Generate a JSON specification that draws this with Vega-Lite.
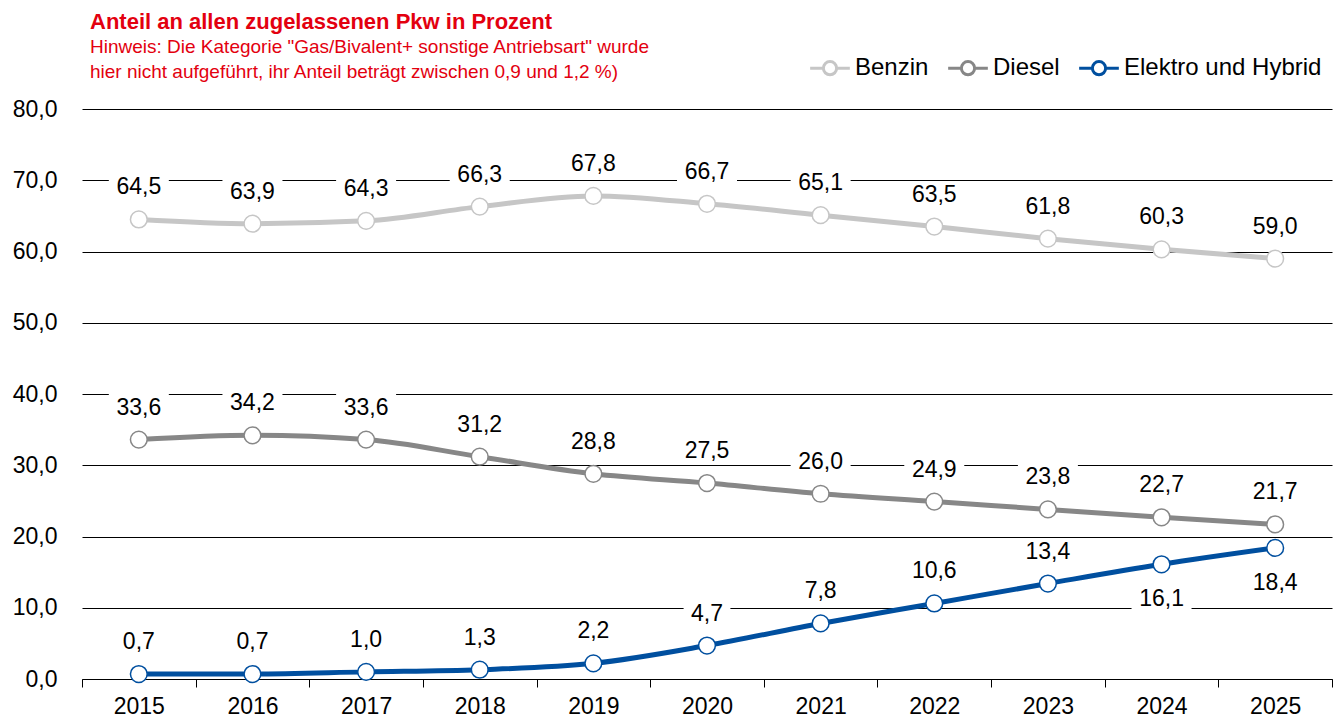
{
  "$schema": "https://vega.github.io/schema/vega-lite/v6.json",
  "autosize": "none",
  "width": 1250,
  "height": 570,
  "padding": {"left": 82, "top": 109, "right": 10, "bottom": 43},
  "background": "white",
  "title": {
    "text": "Anteil an allen zugelassenen Pkw in Prozent",
    "subtitle": ["Hinweis: Die Kategorie \"Gas/Bivalent+ sonstige Antriebsart\" wurde", "hier nicht aufgeführt, ihr Anteil beträgt zwischen 0,9 und 1,2 %)"],
    "anchor": "start",
    "frame": "group",
    "dx": 8,
    "dy": 44,
    "offset": 14,
    "font": "Liberation Sans",
    "fontSize": 22,
    "fontWeight": "bold",
    "color": "#e3000f",
    "subtitleFont": "Liberation Sans",
    "subtitleFontSize": 19,
    "subtitleColor": "#e3000f",
    "subtitleLineHeight": 25,
    "subtitlePadding": 4
  },
  "config": {
    "font": "Liberation Sans",
    "view": {"stroke": null}
  },
  "data": {
    "values": [
      {"year": "2015", "series": "Benzin", "value": 64.5},
      {"year": "2016", "series": "Benzin", "value": 63.9},
      {"year": "2017", "series": "Benzin", "value": 64.3},
      {"year": "2018", "series": "Benzin", "value": 66.3},
      {"year": "2019", "series": "Benzin", "value": 67.8},
      {"year": "2020", "series": "Benzin", "value": 66.7},
      {"year": "2021", "series": "Benzin", "value": 65.1},
      {"year": "2022", "series": "Benzin", "value": 63.5},
      {"year": "2023", "series": "Benzin", "value": 61.8},
      {"year": "2024", "series": "Benzin", "value": 60.3},
      {"year": "2025", "series": "Benzin", "value": 59.0},
      {"year": "2015", "series": "Diesel", "value": 33.6},
      {"year": "2016", "series": "Diesel", "value": 34.2},
      {"year": "2017", "series": "Diesel", "value": 33.6},
      {"year": "2018", "series": "Diesel", "value": 31.2},
      {"year": "2019", "series": "Diesel", "value": 28.8},
      {"year": "2020", "series": "Diesel", "value": 27.5},
      {"year": "2021", "series": "Diesel", "value": 26.0},
      {"year": "2022", "series": "Diesel", "value": 24.9},
      {"year": "2023", "series": "Diesel", "value": 23.8},
      {"year": "2024", "series": "Diesel", "value": 22.7},
      {"year": "2025", "series": "Diesel", "value": 21.7},
      {"year": "2015", "series": "Elektro und Hybrid", "value": 0.7},
      {"year": "2016", "series": "Elektro und Hybrid", "value": 0.7},
      {"year": "2017", "series": "Elektro und Hybrid", "value": 1.0},
      {"year": "2018", "series": "Elektro und Hybrid", "value": 1.3},
      {"year": "2019", "series": "Elektro und Hybrid", "value": 2.2},
      {"year": "2020", "series": "Elektro und Hybrid", "value": 4.7},
      {"year": "2021", "series": "Elektro und Hybrid", "value": 7.8},
      {"year": "2022", "series": "Elektro und Hybrid", "value": 10.6},
      {"year": "2023", "series": "Elektro und Hybrid", "value": 13.4},
      {"year": "2024", "series": "Elektro und Hybrid", "value": 16.1},
      {"year": "2025", "series": "Elektro und Hybrid", "value": 18.4}
    ]
  },
  "transform": [
    {"calculate": "replace(format(datum.value, '.1f'), '.', ',')", "as": "label"},
    {"calculate": "datum.series === 'Elektro und Hybrid' && (datum.year === '2024' || datum.year === '2025')", "as": "below"}
  ],
  "encoding": {
    "x": {
      "field": "year", "type": "ordinal", "title": null,
      "scale": {"paddingInner": 0, "paddingOuter": 0},
      "axis": {
        "labelAngle": 0, "labelFontSize": 23, "labelColor": "#000", "labelPadding": 8,
        "domainColor": "#000", "domainWidth": 1, "tickColor": "#000", "tickSize": 8, "tickWidth": 1,
        "tickBand": "extent", "grid": false
      }
    },
    "y": {
      "field": "value", "type": "quantitative", "title": null,
      "scale": {"domain": [0, 80], "nice": false},
      "axis": {
        "values": [0, 10, 20, 30, 40, 50, 60, 70, 80],
        "labelExpr": "replace(format(datum.value, '.1f'), '.', ',')",
        "labelFontSize": 23, "labelColor": "#000", "labelPadding": 25,
        "domain": false, "ticks": false,
        "grid": true, "gridColor": "#000", "gridWidth": 1
      }
    }
  },
  "layer": [
    {
      "transform": [{"filter": "!datum.below"}],
      "mark": {"type": "point", "filled": true, "fill": "white", "stroke": null, "opacity": 1, "size": 3600, "yOffset": -32},
      "encoding": {
        "shape": {"condition": {"test": "length(datum.label) > 3", "value": "M-1,-0.45L1,-0.45L1,0.45L-1,0.45Z"}, "value": "M-0.78,-0.45L0.78,-0.45L0.78,0.45L-0.78,0.45Z"}
      }
    },
    {
      "transform": [{"filter": "datum.below"}],
      "mark": {"type": "point", "filled": true, "fill": "white", "stroke": null, "opacity": 1, "size": 3600, "yOffset": 35},
      "encoding": {
        "shape": {"condition": {"test": "length(datum.label) > 3", "value": "M-1,-0.45L1,-0.45L1,0.45L-1,0.45Z"}, "value": "M-0.78,-0.45L0.78,-0.45L0.78,0.45L-0.78,0.45Z"}
      }
    },
    {
      "mark": {"type": "line", "interpolate": "monotone", "strokeWidth": 5},
      "encoding": {
        "stroke": {
          "field": "series", "type": "nominal",
          "scale": {"domain": ["Benzin", "Diesel", "Elektro und Hybrid"], "range": ["#c6c6c6", "#878787", "#004f9f"]},
          "legend": {
            "title": null,
            "orient": "none",
            "legendX": 733,
            "legendY": -56,
            "direction": "horizontal",
            "symbolType": "M-1.5,0L-0.5,0M0.5,0L1.5,0M-0.5,0A0.5,0.5 0 1,1 0.5,0A0.5,0.5 0 1,1 -0.5,0Z",
            "symbolSize": 700,
            "symbolStrokeWidth": 3,
            "symbolFillColor": "white",
            "labelFontSize": 24,
            "labelColor": "#000",
            "labelOffset": 10,
            "labelLimit": 400,
            "columnPadding": 13,
            "symbolLimit": 0
          }
        }
      }
    },
    {
      "mark": {"type": "point", "filled": true, "fill": "white", "size": 280, "strokeWidth": 1.5, "opacity": 1},
      "encoding": {
        "stroke": {"field": "series", "type": "nominal", "legend": null}
      }
    },
    {
      "transform": [{"filter": "!datum.below"}],
      "mark": {"type": "text", "dy": -32, "fontSize": 23, "fill": "#000"},
      "encoding": {"text": {"field": "label"}}
    },
    {
      "transform": [{"filter": "datum.below"}],
      "mark": {"type": "text", "dy": 35, "fontSize": 23, "fill": "#000"},
      "encoding": {"text": {"field": "label"}}
    }
  ]
}
